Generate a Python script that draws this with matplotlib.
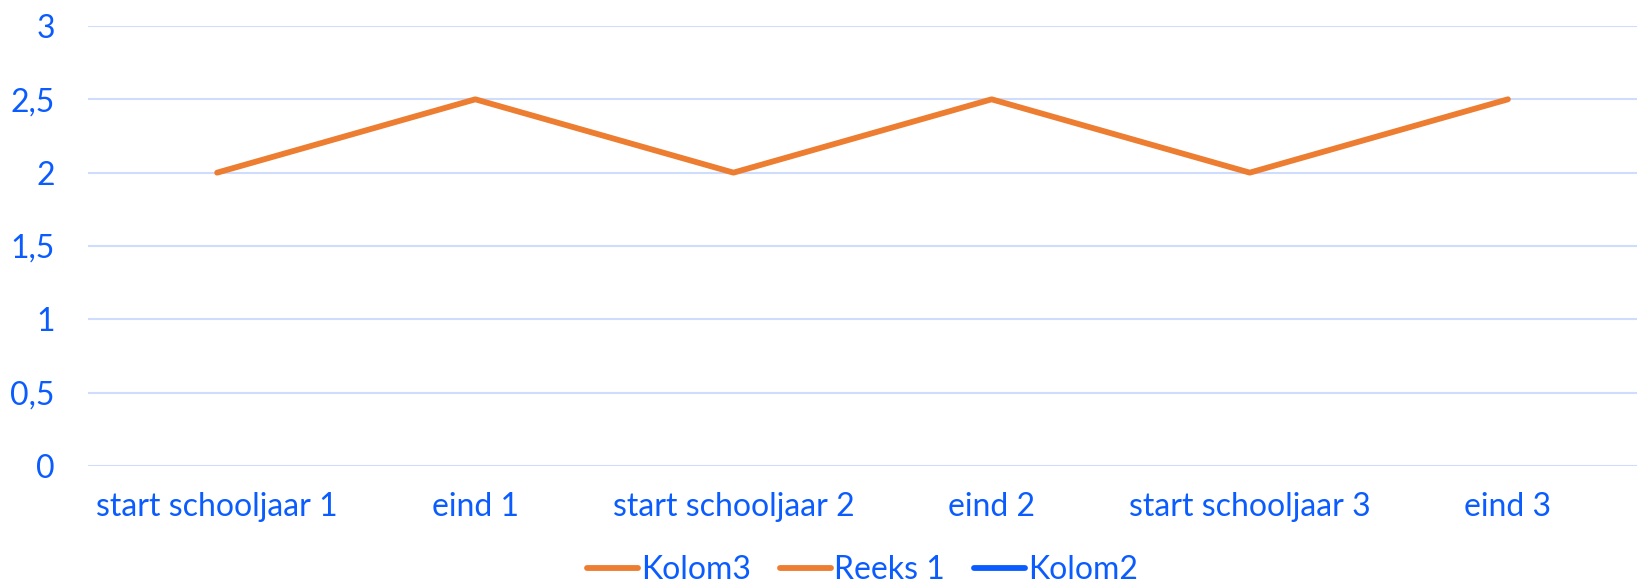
import matplotlib
matplotlib.use('Agg')
import matplotlib.pyplot as plt
import numpy as np

# chart data
categories = ['start schooljaar 1', 'eind 1', 'start schooljaar 2', 'eind 2',
              'start schooljaar 3', 'eind 3']
reeks1 = [2, 2.5, 2, 2.5, 2, 2.5]
kolom3 = []   # no visible values
kolom2 = []   # no visible values
yticks = [0, 0.5, 1, 1.5, 2, 2.5, 3]
ytick_labels = ['0', '0,5', '1', '1,5', '2', '2,5', '3']

text_blue = '#0a5cff'
orange = '#ED7D31'
grid_blue = '#cfdcfb'

plt.rcParams['font.family'] = ['Lato', 'DejaVu Sans']

fig = plt.figure(figsize=(16.37, 5.85), dpi=100)
ax = fig.add_axes([0.0538, 0.2034, 0.9462, 0.7522])

x = np.arange(len(categories))
ax.plot(x[:len(kolom3)], kolom3, color=orange, lw=4.2, solid_capstyle='round', label='Kolom3')
ax.plot(x, reeks1, color=orange, lw=4.2, solid_capstyle='round', label='Reeks 1')
ax.plot(x[:len(kolom2)], kolom2, color='#0a5cff', lw=4.2, solid_capstyle='round', label='Kolom2')

ax.set_xlim(-0.5, len(categories) - 0.5)
ax.set_ylim(0, 3)
ax.set_yticks(yticks)
ax.set_yticklabels(ytick_labels)
ax.set_xticks(x)
ax.set_xticklabels(categories)
ax.grid(axis='y', color=grid_blue, lw=1.5)
ax.set_axisbelow(True)
for s in ax.spines.values():
    s.set_visible(False)
ax.tick_params(axis='both', length=0, labelsize=23, labelcolor=text_blue)
ax.tick_params(axis='y', pad=24)
ax.tick_params(axis='x', pad=19)

leg = ax.legend(loc='center', bbox_to_anchor=(0.5, -0.236), ncol=3, frameon=False,
                fontsize=23, handlelength=1.6, handletextpad=0.1, columnspacing=0.9)
for t in leg.get_texts():
    t.set_color(text_blue)

fig.savefig('out.png', dpi=100)
